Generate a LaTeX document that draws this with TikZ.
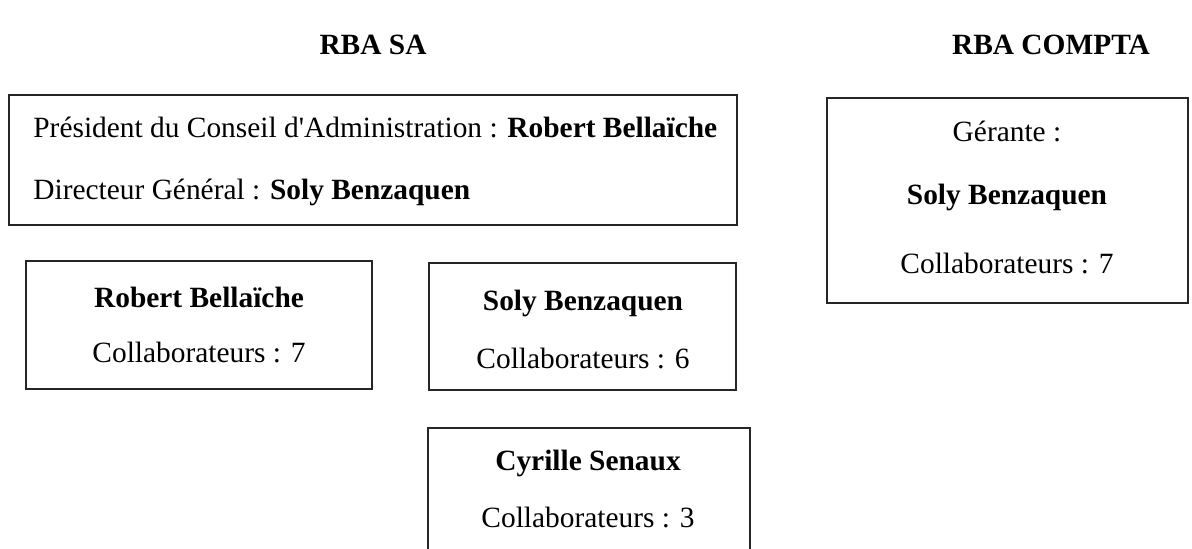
\documentclass[tikz,border=0pt]{standalone}
\usepackage{fontspec}
\setmainfont{Liberation Serif}[Ligatures=TeXOff]
\begin{document}
\begin{tikzpicture}[x=0.5pt,y=-0.5pt,
  box/.style={draw=black!85,line width=1.2pt,rectangle,inner sep=0pt,outer sep=0pt},
  txt/.style={inner sep=0pt,font=\fontsize{14.7pt}{17pt}\selectfont},
  ttl/.style={inner sep=0pt,font=\fontsize{14.7pt}{17pt}\selectfont\bfseries}]
\useasboundingbox (0,0) rectangle (1192,549);
\clip (0,0) rectangle (1192,549);
% titles
\node[ttl] (t1) at (373,45) {RBA SA};
\node[ttl] (t2) at (1051,45) {RBA COMPTA};
% boxes
\node[box,minimum width=364pt,minimum height=65pt] (b1) at (373,160) {};
\node[box,minimum width=173pt,minimum height=64pt] (b2) at (199,325) {};
\node[box,minimum width=153.5pt,minimum height=63.5pt] (b3) at (582.5,326.5) {};
\node[box,minimum width=161pt,minimum height=100pt] (b4) at (589,528) {};
\node[box,minimum width=180.5pt,minimum height=102.5pt] (b5) at (1007.5,200.5) {};
% texts box 1
\node[txt,anchor=west] (p1) at (33,127) {Président du Conseil d'Administration : \textbf{Robert Bellaïche}};
\node[txt,anchor=west] (p2) at (33,192) {Directeur Général : \textbf{Soly Benzaquen}};
% box 2
\node[ttl] (r1) at (199,297) {Robert Bellaïche};
\node[txt] (r2) at (199,353) {Collaborateurs : 7};
% box 3
\node[ttl] (s1) at (583,303) {Soly Benzaquen};
\node[txt] (s2) at (583,359) {Collaborateurs : 6};
% box 4
\node[ttl] (c1) at (588,463) {Cyrille Senaux};
\node[txt] (c2) at (588,518) {Collaborateurs : 3};
% box 5
\node[txt] (g1) at (1007,131) {Gérante :};
\node[ttl] (g2) at (1007,197) {Soly Benzaquen};
\node[txt] (g3) at (1007,264) {Collaborateurs : 7};
\end{tikzpicture}
\end{document}
